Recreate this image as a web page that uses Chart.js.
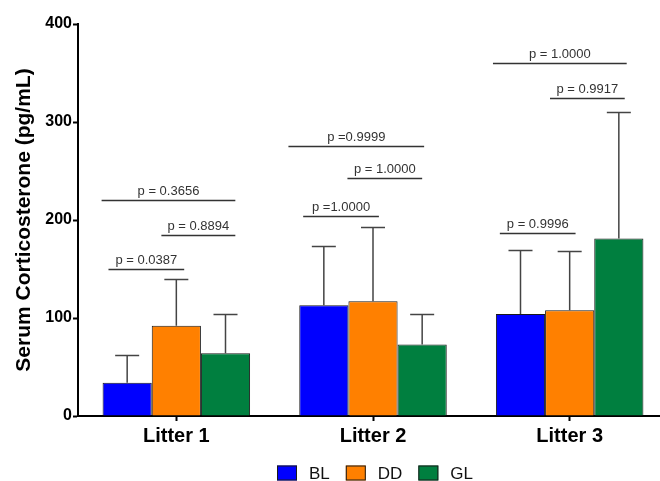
<!DOCTYPE html>
<html>
<head>
<meta charset="utf-8">
<script src="https://cdn.jsdelivr.net/npm/chart.js@4.4.0/dist/chart.umd.min.js"></script>
<style>
  html, body { margin: 0; padding: 0; background: #fff; overflow: hidden; }
  #wrap { position: relative; width: 670px; height: 481px; }
</style>
</head>
<body>
<div id="wrap"><canvas id="chart"></canvas></div>
<script>
// ============================================
// DATA
// ============================================
const litters = ['Litter 1', 'Litter 2', 'Litter 3'];
const groups = ['BL', 'DD', 'GL'];
const groupColors = ['#0000FF', '#FF8000', '#007F3F'];

const meanBL = [34, 113, 104];
const meanDD = [92, 117, 108];
const meanGL = [64, 73, 181];

// upper error (SD) above each bar
const errBL = [28, 60, 65];
const errDD = [47.5, 75.5, 60];
const errGL = [40, 31.5, 129];

const yTicks = [0, 100, 200, 300, 400];

// p-value brackets: litter index, start/end (fraction of category width from centre), height, text
const pLitter = [0, 0, 0, 1, 1, 1, 2, 2, 2];
const pFrom = [-0.38, -0.076, -0.345, -0.43, -0.13, -0.355, -0.39, -0.10, -0.355];
const pTo = [0.30, 0.30, 0.04, 0.26, 0.25, 0.03, 0.29, 0.28, 0.03];
const pY = [220, 185, 150, 276, 243, 204, 360, 324, 187];
const pText = ['p = 0.3656', 'p = 0.8894', 'p = 0.0387',
               'p =0.9999', 'p = 1.0000', 'p =1.0000',
               'p = 1.0000', 'p = 0.9917', 'p = 0.9996'];

const means = [meanBL, meanDD, meanGL];
const errs = [errBL, errDD, errGL];

const FONT = 'Arial, "Liberation Sans", sans-serif';

// ============================================
// PLUGINS
// ============================================
const errorBars = {
    id: 'errorBars',
    afterDatasetsDraw(chart) {
        const ctx = chart.ctx;
        const y = chart.scales.y;
        ctx.save();
        ctx.strokeStyle = '#444';
        ctx.lineWidth = 1.5;
        chart.data.datasets.forEach((ds, di) => {
            const meta = chart.getDatasetMeta(di);
            meta.data.forEach((bar, i) => {
                const top = Math.round(y.getPixelForValue(ds.data[i] + errs[di][i])) + 0.5;
                ctx.beginPath();
                ctx.moveTo(bar.x, bar.y);
                ctx.lineTo(bar.x, top);
                ctx.moveTo(bar.x - 12, top);
                ctx.lineTo(bar.x + 12, top);
                ctx.stroke();
            });
        });
        ctx.restore();
    }
};

const brackets = {
    id: 'brackets',
    afterDatasetsDraw(chart) {
        const ctx = chart.ctx;
        const x = chart.scales.x;
        const y = chart.scales.y;
        const catW = x.width / litters.length;
        ctx.save();
        ctx.strokeStyle = '#333';
        ctx.lineWidth = 1.5;
        ctx.fillStyle = '#333';
        ctx.font = '13px ' + FONT;
        ctx.textAlign = 'center';
        ctx.textBaseline = 'alphabetic';
        for (let k = 0; k < pText.length; k++) {
            const c = x.getPixelForValue(pLitter[k]);
            const x1 = c + pFrom[k] * catW;
            const x2 = c + pTo[k] * catW;
            const py = Math.round(y.getPixelForValue(pY[k])) + 0.5;
            ctx.beginPath();
            ctx.moveTo(x1, py);
            ctx.lineTo(x2, py);
            ctx.stroke();
            ctx.fillText(pText[k], (x1 + x2) / 2, py - 6);
        }
        ctx.restore();
    }
};

const boxLegend = {
    id: 'boxLegend',
    afterDraw(chart) {
        const ctx = chart.ctx;
        const area = chart.chartArea;
        ctx.save();
        ctx.font = '17px ' + FONT;
        ctx.textBaseline = 'middle';
        const boxW = 20, boxH = 15, gapText = 12, gapItem = 16;
        const widths = groups.map(g => boxW + gapText + ctx.measureText(g).width);
        const total = widths.reduce((a, b) => a + b, 0) + gapItem * (groups.length - 1);
        let cx = Math.round((area.left + area.right) / 2 - total / 2) + 2;
        const cy = 473;
        groups.forEach((g, i) => {
            ctx.fillStyle = groupColors[i];
            ctx.fillRect(cx, cy - boxH / 2, boxW, boxH);
            ctx.strokeStyle = '#1a1a1a';
            ctx.lineWidth = 1;
            ctx.strokeRect(cx + 0.5, cy - boxH / 2 + 0.5, boxW - 1, boxH - 1);
            ctx.fillStyle = '#111';
            ctx.fillText(g, cx + boxW + gapText, cy + 1);
            cx += widths[i] + gapItem;
        });
        ctx.restore();
    }
};

// ============================================
// CHART
// ============================================
new Chart(document.getElementById('chart'), {
    type: 'bar',
    data: {
        labels: litters,
        datasets: groups.map((g, i) => ({
            label: g,
            data: means[i],
            backgroundColor: groupColors[i],
            borderColor: '#1a1a1a',
            borderWidth: 1,
            categoryPercentage: 0.75,
            barPercentage: 1.0
        }))
    },
    options: {
        responsive: true,
        maintainAspectRatio: false,
        animation: false,
        layout: { padding: { top: 24, right: 2, bottom: 34, left: 0 } },
        plugins: {
            legend: { display: false },
            tooltip: { enabled: false }
        },
        scales: {
            x: {
                grid: {
                    offset: false,
                    drawOnChartArea: false,
                    tickLength: 5,
                    tickWidth: 2,
                    tickColor: '#000'
                },
                border: { color: '#000', width: 2 },
                ticks: {
                    color: '#000',
                    padding: 3,
                    font: { family: FONT, size: 20, weight: 'bold' }
                },
                afterFit(scale) { scale.height = 31; }
            },
            y: {
                min: 0,
                max: 400,
                afterBuildTicks(scale) { scale.ticks = yTicks.map(v => ({ value: v })); },
                grid: {
                    drawOnChartArea: false,
                    tickLength: 5,
                    tickWidth: 2,
                    tickColor: '#000'
                },
                border: { color: '#000', width: 2 },
                ticks: {
                    color: '#000',
                    padding: 1,
                    font: { family: FONT, size: 16, weight: 'bold' }
                },
                title: {
                    display: true,
                    text: 'Serum Corticosterone (pg/mL)',
                    color: '#000',
                    padding: { top: 12, bottom: 0 },
                    font: { family: FONT, size: 21, weight: 'bold' }
                },
                afterFit(scale) { scale.width = 78; }
            }
        }
    },
    plugins: [errorBars, brackets, boxLegend]
});
</script>
</body>
</html>
